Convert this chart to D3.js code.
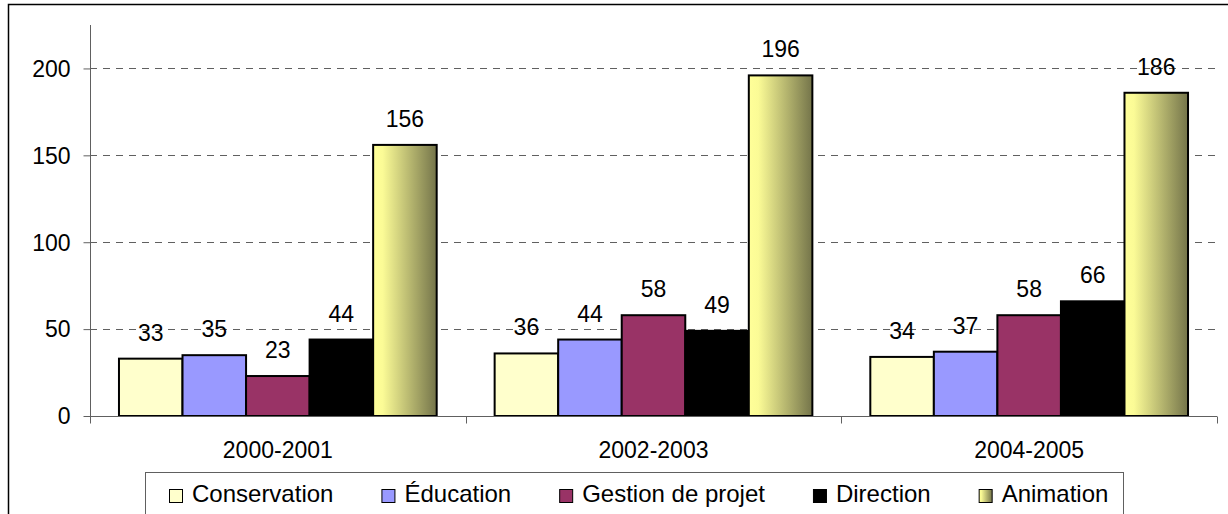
<!DOCTYPE html>
<html>
<head>
<meta charset="utf-8">
<script src="https://cdn.jsdelivr.net/npm/d3@7"></script>
<style>
  body { margin: 0; background: #fff; }
  text { font-family: "Liberation Sans", Arial, sans-serif; fill: #000; }
</style>
</head>
<body>
<script>
var width = 1228,
    height = 514;

// data
var years = ["2000-2001", "2002-2003", "2004-2005"];
var series = ["Conservation", "Éducation", "Gestion de projet", "Direction", "Animation"];
var conservation = [33, 36, 34];
var education = [35, 44, 37];
var gestion = [23, 58, 58];
var direction = [44, 49, 66];
var animation = [156, 196, 186];
var yTicks = [0, 50, 100, 150, 200];

var values = [conservation, education, gestion, direction, animation];
var colors = ["#ffffcc", "#9999ff", "#993366", "#000000", "url(#anim)"];

var margin = {left: 90, right: 11, top: 25, bottom: 98};

var svg = d3.select("body").append("svg")
    .attr("width", width)
    .attr("height", height);

var defs = svg.append("defs");
var grad = defs.append("linearGradient")
    .attr("id", "anim")
    .attr("x1", "0%").attr("x2", "100%")
    .attr("y1", "0%").attr("y2", "0%");
grad.append("stop").attr("offset", "0%").attr("stop-color", "#ffff99");
grad.append("stop").attr("offset", "15%").attr("stop-color", "#fbfb96");
grad.append("stop").attr("offset", "100%").attr("stop-color", "#74744a");

// outer frame
svg.append("rect")
    .attr("x", 8.5).attr("y", 4.5)
    .attr("width", 1240).attr("height", 540)
    .attr("fill", "none")
    .attr("stroke", "#000")
    .attr("stroke-width", 1.5);

var x0 = d3.scaleBand()
    .domain(years)
    .range([margin.left, width - margin.right])
    .padding(0);

var x1 = d3.scaleBand()
    .domain(series)
    .range([0, x0.bandwidth()])
    .paddingInner(0)
    .paddingOuter(0.456);

var y = d3.scaleLinear()
    .domain([0, 225])
    .range([height - margin.bottom, margin.top]);

var g = svg.append("g");

// dashed gridlines
g.selectAll(".grid")
    .data(yTicks.filter(function(d) { return d > 0; }))
    .enter().append("line")
      .attr("class", "grid")
      .attr("x1", margin.left).attr("x2", width - margin.right)
      .attr("y1", function(d) { return Math.round(y(d)) + 0.5; })
      .attr("y2", function(d) { return Math.round(y(d)) + 0.5; })
      .attr("stroke", "#606060")
      .attr("stroke-width", 1)
      .attr("stroke-dasharray", "7,6");

// y axis
var yAxis = d3.axisLeft(y)
    .tickValues(yTicks)
    .tickSize(7)
    .tickPadding(13);

var ya = svg.append("g")
    .attr("transform", "translate(" + (margin.left + 0.5) + ",0)")
    .call(yAxis);
ya.select(".domain").remove();
ya.selectAll(".tick line").attr("stroke", "#606060");
ya.selectAll(".tick text")
    .style("font-size", "23px")
    .attr("dy", "0.34em");
ya.append("line")
    .attr("x1", 0).attr("x2", 0)
    .attr("y1", margin.top).attr("y2", y(0) + 7)
    .attr("stroke", "#606060");

// bars
var groups = g.selectAll(".year")
    .data(years)
    .enter().append("g")
      .attr("class", "year")
      .attr("transform", function(d) { return "translate(" + x0(d) + ",0)"; });

groups.selectAll("rect")
    .data(function(d, i) {
      return series.map(function(s, j) { return {s: s, v: values[j][i], c: colors[j]}; });
    })
    .enter().append("rect")
      .attr("x", function(d) { return x1(d.s); })
      .attr("width", x1.bandwidth())
      .attr("y", function(d) { return y(d.v); })
      .attr("height", function(d) { return y(0) - y(d.v); })
      .attr("fill", function(d) { return d.c; })
      .attr("stroke", "#000")
      .attr("stroke-width", 2);

groups.selectAll(".lbl")
    .data(function(d, i) {
      return series.map(function(s, j) { return {s: s, v: values[j][i]}; });
    })
    .enter().append("text")
      .attr("class", "lbl")
      .attr("x", function(d) { return x1(d.s) + x1.bandwidth() / 2; })
      .attr("y", function(d) { return y(d.v) - 18; })
      .attr("text-anchor", "middle")
      .style("font-size", "23px")
      .text(function(d) { return d.v; });

// x axis
var xa = svg.append("g")
    .attr("transform", "translate(0," + (y(0) + 0.5) + ")");
xa.append("line")
    .attr("x1", margin.left).attr("x2", width - margin.right)
    .attr("stroke", "#606060");
var bounds = years.map(function(d) { return x0(d); }).concat([width - margin.right]);
xa.selectAll(".xt")
    .data(bounds)
    .enter().append("line")
      .attr("class", "xt")
      .attr("x1", function(d) { return Math.round(d) + 0.5; })
      .attr("x2", function(d) { return Math.round(d) + 0.5; })
      .attr("y1", 0).attr("y2", 7)
      .attr("stroke", "#606060");
xa.selectAll(".xl")
    .data(years)
    .enter().append("text")
      .attr("class", "xl")
      .attr("x", function(d) { return x0(d) + x0.bandwidth() / 2; })
      .attr("y", 41)
      .attr("text-anchor", "middle")
      .style("font-size", "23px")
      .text(function(d) { return d; });

// legend
var legend = svg.append("g");
legend.append("rect")
    .attr("x", 145.5).attr("y", 472.5)
    .attr("width", 978).attr("height", 80)
    .attr("fill", "#fff")
    .attr("stroke", "#606060");

var lx = 169;
series.forEach(function(s, i) {
  legend.append("rect")
      .attr("x", lx + 0.5).attr("y", 489.5)
      .attr("width", 13).attr("height", 13)
      .attr("fill", colors[i])
      .attr("stroke", "#000")
      .attr("stroke-width", 1);
  var t = legend.append("text")
      .attr("x", lx + 23)
      .attr("y", 502)
      .style("font-size", "24px")
      .text(s);
  lx += 23 + t.node().getComputedTextLength() + 48;
});
</script>
</body>
</html>
